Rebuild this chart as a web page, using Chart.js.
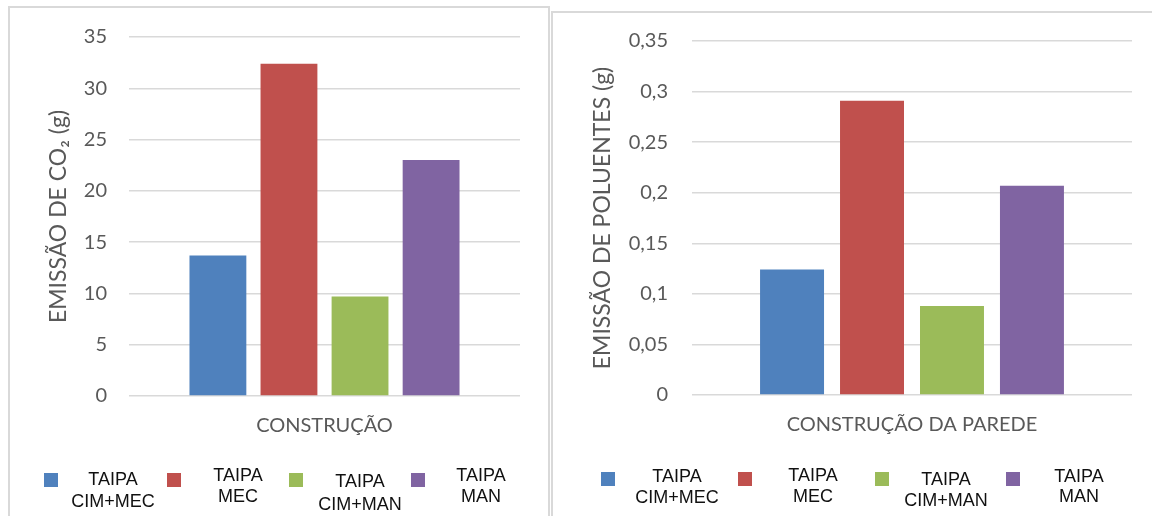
<!DOCTYPE html>
<html>
<head>
<meta charset="utf-8">
<script src="https://cdn.jsdelivr.net/npm/chart.js@4/dist/chart.umd.min.js"></script>
<style>
  html, body { margin: 0; padding: 0; background: #fff; width: 1152px; height: 516px; overflow: hidden; }
  .panel { position: absolute; border-color: #d9d9d9; border-style: solid; background: #fff; }
  #panelCo2 { left: 8px; top: 6px; width: 538px; height: 520px; border-width: 2px 2px 0 2px; }
  #panelPol { left: 551px; top: 11px; width: 620px; height: 520px; border-width: 2px 0 0 2px; }
  canvas { position: absolute; left: 0; top: 0; }
</style>
</head>
<body>
<div class="panel" id="panelCo2"><canvas id="co2Chart" width="538" height="508"></canvas></div>
<div class="panel" id="panelPol"><canvas id="polChart" width="599" height="503"></canvas></div>
<script>
// Wall-building techniques compared
const seriesNames = ['TAIPA CIM+MEC', 'TAIPA MEC', 'TAIPA CIM+MAN', 'TAIPA MAN'];
const seriesColors = ['#4f81bd', '#c0504d', '#9bbb59', '#8064a2'];

// CO2 emission (g) during construction
const co2Category = ['CONSTRUÇÃO'];
const co2Values = [13.7, 32.4, 9.7, 23.0];
const co2Ticks = [0, 5, 10, 15, 20, 25, 30, 35];

// Pollutant emission (g) during wall construction
const polCategory = ['CONSTRUÇÃO DA PAREDE'];
const polValues = [0.124, 0.291, 0.088, 0.207];
const polTicks = [0, 0.05, 0.1, 0.15, 0.2, 0.25, 0.3, 0.35];

const GREY_TEXT = '#595959';
const GRID = '#d9d9d9';
const UI_FONT = 'Lato, "Open Sans", sans-serif';

// Legend with each label wrapped onto two lines (name / variant)
const wrappedLegend = {
  id: 'wrappedLegend',
  afterDraw(chart, args, opts) {
    const ctx = chart.ctx;
    ctx.save();
    ctx.font = opts.fontSize + 'px "Liberation Sans", Arial, sans-serif';
    ctx.textAlign = 'center';
    ctx.textBaseline = 'middle';
    chart.data.datasets.forEach((ds, i) => {
      ctx.fillStyle = ds.backgroundColor;
      ctx.fillRect(opts.swatchX[i], opts.swatchY, opts.swatch, opts.swatch);
      const words = ds.label.split(' ');
      ctx.fillStyle = '#111';
      ctx.fillText(words[0], opts.textX[i], opts.line1Y[i]);
      ctx.fillText(words.slice(1).join(' '), opts.textX[i], opts.line2Y[i]);
    });
    ctx.restore();
  }
};

function buildChart(id, cfg) {
  const datasets = seriesNames.map((name, i) => ({
    label: name,
    data: [cfg.values[i]],
    backgroundColor: seriesColors[i],
    borderWidth: 0,
    barPercentage: 0.8,
    categoryPercentage: 0.727
  }));
  return new Chart(document.getElementById(id), {
    type: 'bar',
    data: { labels: cfg.categories, datasets },
    options: {
      responsive: false,
      animation: false,
      locale: 'pt-BR',
      layout: { padding: { left: 0, right: cfg.padRight, top: cfg.padTop, bottom: cfg.padBottom } },
      plugins: {
        legend: { display: false },
        tooltip: { enabled: false },
        wrappedLegend: cfg.legend
      },
      scales: {
        x: {
          grid: { display: false, drawTicks: false },
          border: { display: false },
          ticks: { color: GREY_TEXT, padding: cfg.catPad, font: { family: UI_FONT, size: cfg.catSize } },
          afterFit(scale) { scale.height = 60; scale.paddingLeft = 0; scale.paddingRight = 0; }
        },
        y: {
          min: 0,
          max: cfg.ticks[cfg.ticks.length - 1],
          afterBuildTicks(scale) { scale.ticks = cfg.ticks.map(v => ({ value: v })); },
          grid: { color: GRID, lineWidth: 1.5, drawTicks: false },
          border: { display: false },
          ticks: {
            color: GREY_TEXT,
            padding: cfg.tickPad,
            font: { family: UI_FONT, size: cfg.tickSize },
            callback: v => v.toLocaleString('pt-BR', { maximumFractionDigits: 2 })
          },
          title: {
            display: true,
            text: cfg.title,
            color: GREY_TEXT,
            font: { family: UI_FONT, size: cfg.titleSize },
            padding: { top: cfg.titlePad, bottom: 0 }
          },
          afterFit(scale) { scale.width = cfg.axisWidth; scale.paddingTop = 0; scale.paddingBottom = 0; }
        }
      }
    },
    plugins: [wrappedLegend]
  });
}

buildChart('co2Chart', {
  categories: co2Category,
  values: co2Values,
  ticks: co2Ticks,
  title: 'EMISSÃO DE CO₂ (g)',
  padRight: 28, padTop: 29, padBottom: 60,
  axisWidth: 119, tickPad: 22, catPad: 18,
  tickSize: 20, titleSize: 23, catSize: 20, titlePad: 35,
  legend: {
    fontSize: 18, swatch: 14, swatchY: 465,
    swatchX: [34, 157, 279, 401],
    textX: [103, 228, 350, 471],
    line1Y: [472, 468, 474, 468],
    line2Y: [494, 489, 497, 489]
  }
});

buildChart('polChart', {
  categories: polCategory,
  values: polValues,
  ticks: polTicks,
  title: 'EMISSÃO DE POLUENTES (g)',
  padRight: 20, padTop: 28, padBottom: 61,
  axisWidth: 139, tickPad: 24, catPad: 18,
  tickSize: 20, titleSize: 23, catSize: 20, titlePad: 36,
  legend: {
    fontSize: 18, swatch: 14, swatchY: 459,
    swatchX: [48, 185, 322, 453],
    textX: [124, 260, 393, 526],
    line1Y: [464, 463, 467, 464],
    line2Y: [485, 484, 488, 484]
  }
});
</script>
</body>
</html>
